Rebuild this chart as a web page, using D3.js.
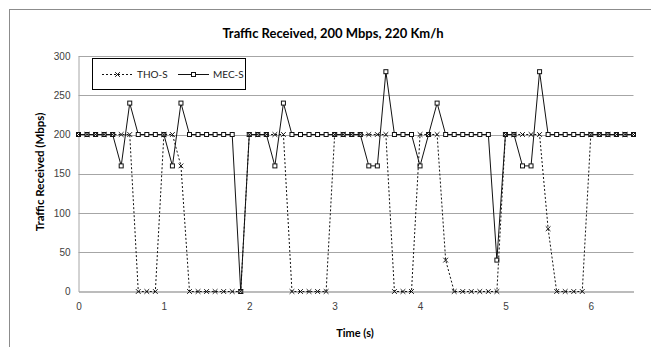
<!DOCTYPE html>
<html>
<head>
<meta charset="utf-8">
<script src="https://cdn.jsdelivr.net/npm/d3@7"></script>
<style>
  body { margin: 0; background: #fff; }
  svg { display: block; font-family: Lato, "Open Sans", sans-serif; }
</style>
</head>
<body>
<svg id="svg" width="651" height="347"></svg>
<script>
const timeSec = [0, 0.1, 0.2, 0.3, 0.4, 0.5, 0.6, 0.7, 0.8, 0.9,
  1, 1.1, 1.2, 1.3, 1.4, 1.5, 1.6, 1.7, 1.8, 1.9,
  2, 2.1, 2.2, 2.3, 2.4, 2.5, 2.6, 2.7, 2.8, 2.9,
  3, 3.1, 3.2, 3.3, 3.4, 3.5, 3.6, 3.7, 3.8, 3.9,
  4, 4.1, 4.2, 4.3, 4.4, 4.5, 4.6, 4.7, 4.8, 4.9,
  5, 5.1, 5.2, 5.3, 5.4, 5.5, 5.6, 5.7, 5.8, 5.9,
  6, 6.1, 6.2, 6.3, 6.4, 6.5];

const thoS = [200, 200, 200, 200, 200, 200, 200, 0, 0, 0,
  200, 200, 160, 0, 0, 0, 0, 0, 0, 0,
  200, 200, 200, 200, 200, 0, 0, 0, 0, 0,
  200, 200, 200, 200, 200, 200, 200, 0, 0, 0,
  200, 200, 200, 40, 0, 0, 0, 0, 0, 0,
  200, 200, 200, 200, 200, 80, 0, 0, 0, 0,
  200, 200, 200, 200, 200, 200];

const mecS = [200, 200, 200, 200, 200, 160, 240, 200, 200, 200,
  200, 160, 240, 200, 200, 200, 200, 200, 200, 0,
  200, 200, 200, 160, 240, 200, 200, 200, 200, 200,
  200, 200, 200, 200, 160, 160, 280, 200, 200, 200,
  160, 200, 240, 200, 200, 200, 200, 200, 200, 40,
  200, 200, 160, 160, 280, 200, 200, 200, 200, 200,
  200, 200, 200, 200, 200, 200];

const xTicks = [0, 1, 2, 3, 4, 5, 6];
const yTicks = [0, 50, 100, 150, 200, 250, 300];
const seriesNames = ['THO-S', 'MEC-S'];

let svg = d3.select('#svg');

// outer chart frame (runs off the right and bottom edges)
svg.append('rect')
  .attr('x', 9.5).attr('y', 9.5)
  .attr('width', 700).attr('height', 400)
  .attr('fill', '#fff').attr('stroke', '#8c8c8c');

let x = d3.scaleLinear().domain([0, 6.5]).range([78.5, 633.5]);
let y = d3.scaleLinear().domain([0, 300]).range([291.5, 56]);

// horizontal gridlines
svg.append('g')
  .selectAll('line')
  .data(yTicks.filter(d => d > 0))
  .enter().append('line')
  .attr('x1', x(0)).attr('x2', x(6.5))
  .attr('y1', d => Math.round(y(d)) + 0.5).attr('y2', d => Math.round(y(d)) + 0.5)
  .attr('stroke', '#a6a6a6');

// y axis
let yAxis = svg.append('g')
  .attr('transform', 'translate(' + x(0) + ',0)')
  .call(d3.axisLeft(y).tickValues(yTicks).tickSize(0).tickPadding(8));
yAxis.select('.domain').attr('stroke', '#a6a6a6');
yAxis.selectAll('text').attr('fill', '#404040').style('font-size', '10px');

// x axis
let xAxis = svg.append('g')
  .attr('transform', 'translate(0,' + y(0) + ')')
  .call(d3.axisBottom(x).tickValues(xTicks).tickFormat(d3.format('d')).tickSize(0).tickPadding(11));
xAxis.select('.domain').attr('stroke', '#a6a6a6').attr('stroke-width', 1.5);
xAxis.selectAll('text').attr('fill', '#404040').style('font-size', '10px');

// titles
svg.append('text')
  .attr('x', 333).attr('y', 38)
  .attr('text-anchor', 'middle')
  .style('font-size', '13px').style('font-weight', 'bold')
  .attr('fill', '#000')
  .text('Traffic Received, 200 Mbps, 220 Km/h');

svg.append('text')
  .attr('x', 355).attr('y', 337)
  .attr('text-anchor', 'middle')
  .style('font-size', '11px').style('font-weight', 'bold')
  .text('Time (s)');

svg.append('text')
  .attr('transform', 'translate(44,172) rotate(-90)')
  .attr('text-anchor', 'middle')
  .style('font-size', '11.5px').style('font-weight', 'bold')
  .text('Traffic Received (Mbps)');

let mecData = timeSec.map((t, i) => ({ t: t, v: mecS[i] }));
let thoData = timeSec.map((t, i) => ({ t: t, v: thoS[i] }));

let line = d3.line().x(d => x(d.t)).y(d => y(d.v));

// MEC-S: solid line with open squares
svg.append('path')
  .datum(mecData)
  .attr('fill', 'none')
  .attr('stroke', '#111')
  .attr('stroke-width', 1)
  .attr('d', line);

svg.append('g')
  .selectAll('rect')
  .data(mecData)
  .enter().append('rect')
  .attr('x', d => x(d.t) - 2).attr('y', d => y(d.v) - 2)
  .attr('width', 4).attr('height', 4)
  .attr('fill', '#fff').attr('stroke', '#111').attr('stroke-width', 1);

// THO-S: dotted line with x markers
svg.append('path')
  .datum(thoData)
  .attr('fill', 'none')
  .attr('stroke', '#111')
  .attr('stroke-width', 1)
  .attr('stroke-dasharray', '2,2')
  .attr('d', line);

let cross = d3.symbol().type(d3.symbolX).size(16);
svg.append('g')
  .selectAll('path')
  .data(thoData)
  .enter().append('path')
  .attr('transform', d => 'translate(' + x(d.t) + ',' + y(d.v) + ')')
  .attr('d', cross)
  .attr('fill', 'none').attr('stroke', '#111').attr('stroke-width', 1);

// legend
let legend = svg.append('g');
legend.append('rect')
  .attr('x', 92.5).attr('y', 58.5)
  .attr('width', 153).attr('height', 31)
  .attr('fill', '#fff').attr('stroke', '#000');

legend.append('line')
  .attr('x1', 102).attr('x2', 133).attr('y1', 74.5).attr('y2', 74.5)
  .attr('stroke', '#111').attr('stroke-dasharray', '2,2');
legend.append('path')
  .attr('transform', 'translate(117.5,74.5)')
  .attr('d', cross)
  .attr('fill', 'none').attr('stroke', '#111');
legend.append('text')
  .attr('x', 137).attr('y', 78)
  .style('font-size', '10px').attr('fill', '#222')
  .text(seriesNames[0]);

legend.append('line')
  .attr('x1', 178).attr('x2', 209).attr('y1', 74.5).attr('y2', 74.5)
  .attr('stroke', '#111');
legend.append('rect')
  .attr('x', 191.5).attr('y', 72.5).attr('width', 4).attr('height', 4)
  .attr('fill', '#fff').attr('stroke', '#111');
legend.append('text')
  .attr('x', 213).attr('y', 78)
  .style('font-size', '10px').attr('fill', '#222')
  .text(seriesNames[1]);
</script>
</body>
</html>
